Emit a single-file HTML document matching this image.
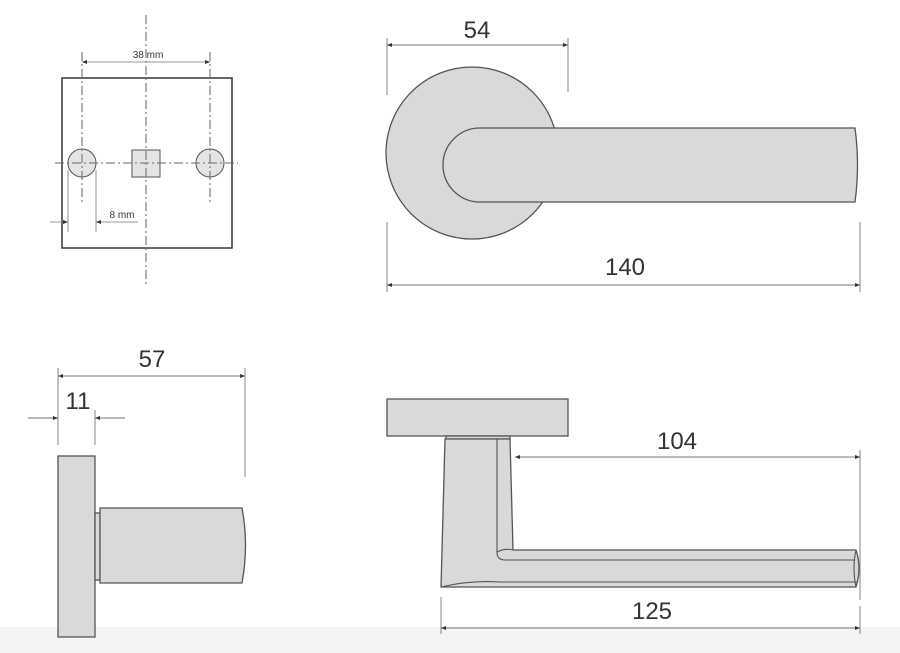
<!DOCTYPE html>
<html><head><meta charset="utf-8"><style>
html,body{margin:0;padding:0;background:#fff;}
svg{display:block;}
text{font-family:"Liberation Sans",Arial,sans-serif;fill:#333;}
</style></head><body>
<svg width="900" height="653" viewBox="0 0 900 653" xmlns="http://www.w3.org/2000/svg">
<defs>
<marker id="a" viewBox="0 0 10 10" refX="10" refY="5" markerWidth="7" markerHeight="5" orient="auto-start-reverse" markerUnits="userSpaceOnUse"><path d="M0,1 L10,5 L0,9 z" fill="#333"/></marker>
</defs>
<rect x="0" y="627" width="900" height="26" fill="#f4f4f4"/>
<g stroke="#444" stroke-width="1.6" fill="#fff">
<rect x="62" y="78" width="170" height="170"/>
</g>
<g stroke="#555" stroke-width="1" fill="#e4e4e4">
<circle cx="82" cy="163" r="14"/>
<circle cx="210" cy="163" r="14"/>
<rect x="132" y="150" width="28" height="27"/>
</g>
<g stroke="#666" stroke-width="1" stroke-dasharray="9,3,2,3" fill="none">
<line x1="146" y1="15" x2="146" y2="285"/>
<line x1="55" y1="163" x2="238" y2="163"/>
<line x1="82" y1="52" x2="82" y2="205"/>
<line x1="210" y1="52" x2="210" y2="205"/>
</g>
<g stroke="#777" stroke-width="0.8" fill="none">
<line x1="82" y1="62" x2="210" y2="62" marker-start="url(#a)" marker-end="url(#a)"/>
<line x1="68" y1="170" x2="68" y2="232"/>
<line x1="96" y1="170" x2="96" y2="232"/>
<line x1="50" y1="222" x2="68" y2="222" marker-end="url(#a)"/>
<line x1="138" y1="222" x2="96" y2="222" marker-end="url(#a)"/>
</g>
<text x="148" y="58" font-size="10" text-anchor="middle" fill="#666">38 mm</text>
<text x="122" y="218" font-size="10" text-anchor="middle" fill="#666">8 mm</text>

<g stroke="#555" stroke-width="1.3" fill="#d9d9d9">
<circle cx="472" cy="153" r="86"/>
<path d="M480,128 L855,128 Q860,165 855,202 L480,202 A37,37 0 0 1 480,128 Z"/>
</g>
<g stroke="#777" stroke-width="0.9" fill="none">
<line x1="387" y1="38" x2="387" y2="95"/>
<line x1="568" y1="38" x2="568" y2="92"/>
<line x1="387" y1="45" x2="568" y2="45" marker-start="url(#a)" marker-end="url(#a)"/>
<line x1="387" y1="222" x2="387" y2="292"/>
<line x1="860" y1="222" x2="860" y2="292"/>
<line x1="387" y1="285" x2="860" y2="285" marker-start="url(#a)" marker-end="url(#a)"/>
</g>
<text x="477" y="38" font-size="24" text-anchor="middle">54</text>
<text x="625" y="275" font-size="24" text-anchor="middle">140</text>

<g stroke="#555" stroke-width="1.3" fill="#d9d9d9">
<rect x="58" y="456" width="37" height="181"/>
<rect x="95" y="513" width="5" height="67"/>
<path d="M100,508 L242,508 Q249,545 242,583 L100,583 Z"/>
</g>
<g stroke="#777" stroke-width="0.9" fill="none">
<line x1="58" y1="368" x2="58" y2="445"/>
<line x1="245" y1="368" x2="245" y2="477"/>
<line x1="58" y1="376" x2="245" y2="376" marker-start="url(#a)" marker-end="url(#a)"/>
<line x1="95" y1="410" x2="95" y2="445"/>
<line x1="28" y1="418" x2="58" y2="418" marker-end="url(#a)"/>
<line x1="125" y1="418" x2="95" y2="418" marker-end="url(#a)"/>
</g>
<text x="152" y="367" font-size="24" text-anchor="middle">57</text>
<text x="78" y="409" font-size="24" text-anchor="middle">11</text>

<g stroke="#555" stroke-width="1.3" fill="#d9d9d9">
<rect x="387" y="399" width="181" height="37"/>
<rect x="446" y="436" width="64" height="3"/>
<path d="M445,439 L510,439 L513,550 L856,550 Q862,568 856,587 L441,587 Z"/>
</g>
<g stroke="#555" stroke-width="1.1" fill="none">
<path d="M497,439 L497,552 Q497,560 505,560 L855,560"/>
<path d="M497,552 Q505,548 513,550"/>
<path d="M441,587 Q470,580 500,582 L858,582"/>
<path d="M856,550 Q852,568 856,587"/>
</g>
<g stroke="#777" stroke-width="0.9" fill="none">
<line x1="860" y1="450" x2="860" y2="600"/>
<line x1="515" y1="457" x2="860" y2="457" marker-start="url(#a)" marker-end="url(#a)"/>
<line x1="441" y1="597" x2="441" y2="634"/>
<line x1="860" y1="606" x2="860" y2="634"/>
<line x1="441" y1="628" x2="860" y2="628" marker-start="url(#a)" marker-end="url(#a)"/>
</g>
<text x="677" y="449" font-size="24" text-anchor="middle">104</text>
<text x="652" y="619" font-size="24" text-anchor="middle">125</text>
</svg>
</body></html>
